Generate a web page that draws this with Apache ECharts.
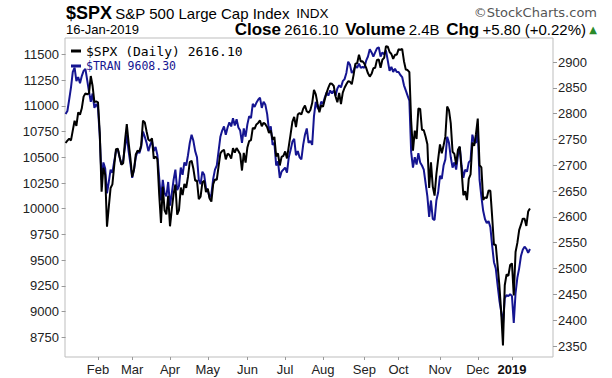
<!DOCTYPE html>
<html>
<head>
<meta charset="utf-8">
<script src="https://cdn.jsdelivr.net/npm/echarts@6/dist/echarts.min.js"></script>
<style>
  html, body { margin: 0; padding: 0; background: #fff; }
  #chart { width: 612px; height: 378px; }
</style>
</head>
<body>
<div id="chart"></div>
<script>
// trading days shown, month by month
const monthKeys = ['2018-01', '2018-02', '2018-03', '2018-04', '2018-05', '2018-06', '2018-07',
  '2018-08', '2018-09', '2018-10', '2018-11', '2018-12', '2019-01'];
const monthDays = [
  [5, 8, 9, 10, 11, 12, 16, 17, 18, 19, 22, 23, 24, 25, 26, 29, 30, 31],
  [1, 2, 5, 6, 7, 8, 9, 12, 13, 14, 15, 16, 20, 21, 22, 23, 26, 27, 28],
  [1, 2, 5, 6, 7, 8, 9, 12, 13, 14, 15, 16, 19, 20, 21, 22, 23, 26, 27, 28, 29],
  [2, 3, 4, 5, 6, 9, 10, 11, 12, 13, 16, 17, 18, 19, 20, 23, 24, 25, 26, 27, 30],
  [1, 2, 3, 4, 7, 8, 9, 10, 11, 14, 15, 16, 17, 18, 21, 22, 23, 24, 25, 29, 30, 31],
  [1, 4, 5, 6, 7, 8, 11, 12, 13, 14, 15, 18, 19, 20, 21, 22, 25, 26, 27, 28, 29],
  [2, 3, 5, 6, 9, 10, 11, 12, 13, 16, 17, 18, 19, 20, 23, 24, 25, 26, 27, 30, 31],
  [1, 2, 3, 6, 7, 8, 9, 10, 13, 14, 15, 16, 17, 20, 21, 22, 23, 24, 27, 28, 29, 30, 31],
  [4, 5, 6, 7, 10, 11, 12, 13, 14, 17, 18, 19, 20, 21, 24, 25, 26, 27, 28],
  [1, 2, 3, 4, 5, 8, 9, 10, 11, 12, 15, 16, 17, 18, 19, 22, 23, 24, 25, 26, 29, 30, 31],
  [1, 2, 5, 6, 7, 8, 9, 12, 13, 14, 15, 16, 19, 20, 21, 23, 26, 27, 28, 29, 30],
  [3, 4, 6, 7, 10, 11, 12, 13, 14, 17, 18, 19, 20, 21, 24, 26, 27, 28, 31],
  [2, 3, 4, 7, 8, 9, 10, 11, 14, 15, 16]
];
const monthLabels = ['Feb', 'Mar', 'Apr', 'May', 'Jun', 'Jul', 'Aug', 'Sep', 'Oct', 'Nov', 'Dec', '2019'];

// $SPX daily close
const spx = [
  2743.15, 2747.71, 2751.29, 2748.23, 2767.56, 2786.24, 2776.42, 2802.56, 2798.03, 2810.30, 2832.97, 2839.13, 2837.54, 2839.25, 2872.87, 2853.53, 2822.43, 2823.81,
  2821.98, 2762.13, 2648.94, 2695.14, 2681.66, 2581.00, 2619.55, 2656.00, 2662.94, 2698.63, 2731.20, 2732.22, 2716.26, 2701.33, 2703.96, 2747.30, 2779.60, 2744.28, 2713.83,
  2677.67, 2691.25, 2720.94, 2728.12, 2726.80, 2738.97, 2786.57, 2783.02, 2765.31, 2749.48, 2747.33, 2752.01, 2712.92, 2716.94, 2711.93, 2643.69, 2588.26, 2658.55, 2612.62, 2605.00, 2640.87,
  2581.88, 2614.45, 2644.69, 2662.84, 2604.47, 2613.16, 2656.87, 2642.19, 2663.99, 2656.30, 2677.84, 2706.39, 2708.64, 2693.13, 2670.14, 2670.29, 2634.56, 2639.40, 2666.94, 2669.91, 2648.05,
  2654.80, 2635.67, 2629.73, 2663.42, 2672.63, 2671.92, 2697.79, 2723.07, 2727.72, 2730.13, 2711.45, 2722.46, 2720.13, 2712.97, 2733.01, 2724.44, 2733.29, 2727.76, 2721.33, 2689.86, 2724.01, 2705.27,
  2734.62, 2746.87, 2748.80, 2772.35, 2770.37, 2779.03, 2782.00, 2786.85, 2775.63, 2782.49, 2779.66, 2773.75, 2762.59, 2767.32, 2749.76, 2754.88, 2717.07, 2723.06, 2699.63, 2716.31, 2718.37,
  2726.71, 2713.22, 2736.61, 2759.82, 2784.17, 2793.84, 2774.02, 2798.29, 2801.31, 2798.43, 2809.55, 2815.62, 2804.49, 2801.83, 2806.98, 2820.40, 2846.07, 2837.44, 2818.82, 2802.60, 2816.29,
  2813.36, 2827.22, 2840.35, 2850.40, 2858.45, 2857.70, 2853.58, 2833.28, 2821.93, 2839.96, 2818.37, 2840.69, 2850.13, 2857.05, 2862.96, 2861.82, 2856.98, 2874.69, 2896.74, 2897.52, 2914.04, 2901.13, 2901.52,
  2896.72, 2888.60, 2878.05, 2871.68, 2877.13, 2887.89, 2888.92, 2904.18, 2904.98, 2888.80, 2904.31, 2907.95, 2930.75, 2929.67, 2919.37, 2915.56, 2905.97, 2914.00, 2913.98,
  2924.59, 2923.43, 2925.51, 2901.61, 2885.57, 2884.43, 2880.34, 2785.68, 2728.37, 2767.13, 2750.79, 2809.92, 2809.21, 2768.78, 2767.78, 2755.88, 2740.69, 2656.10, 2705.57, 2658.69, 2641.25, 2682.63, 2711.74,
  2740.37, 2723.06, 2738.31, 2755.45, 2813.89, 2806.83, 2781.01, 2726.22, 2722.18, 2701.58, 2730.20, 2736.27, 2690.73, 2641.89, 2649.93, 2632.56, 2673.45, 2682.17, 2743.79, 2737.80, 2760.17,
  2790.37, 2700.06, 2695.95, 2633.08, 2637.72, 2636.78, 2651.07, 2650.54, 2599.95, 2545.94, 2546.16, 2506.96, 2467.42, 2416.62, 2351.10, 2467.70, 2488.83, 2485.74, 2506.85,
  2510.03, 2447.89, 2531.94, 2549.69, 2574.41, 2584.96, 2596.64, 2596.26, 2582.61, 2610.30, 2616.10
];

// $TRAN daily close (overlay, left scale)
const tran = [
  10920, 10950, 11060, 11180, 11330, 11373, 11240, 11280, 11220, 11290, 11340, 11360, 11250, 11140, 11040, 11120, 10980, 11020,
  10980, 10700, 10280, 10450, 10390, 10150, 10260, 10380, 10350, 10460, 10560, 10580, 10500, 10430, 10470, 10600, 10720, 10560, 10440,
  10300, 10380, 10500, 10560, 10540, 10600, 10750, 10700, 10640, 10560, 10620, 10660, 10560, 10600, 10520, 10300, 10080, 10280, 10150, 10120, 10260,
  10030, 10150, 10280, 10380, 10180, 10220, 10400, 10330, 10450, 10420, 10520, 10640, 10720, 10660, 10560, 10500, 10280, 10240, 10360, 10330, 10200,
  10180, 10110, 10140, 10290, 10380, 10420, 10560, 10700, 10760, 10800, 10720, 10790, 10840, 10800, 10880, 10810, 10870, 10790, 10760, 10640, 10780, 10700,
  10820, 10900, 10880, 11020, 10990, 11030, 11060, 11080, 10980, 11040, 11010, 10920, 10760, 10800, 10620, 10640, 10420, 10460, 10300, 10360, 10380,
  10400, 10350, 10500, 10570, 10650, 10680, 10520, 10560, 10500, 10480, 10620, 10720, 10780, 10640, 10660, 10620, 10900, 11040, 10980, 10960, 11040,
  11020, 11080, 11130, 11100, 11150, 11120, 11150, 11100, 11170, 11200, 11180, 11240, 11260, 11320, 11430, 11400, 11320, 11340, 11390, 11370, 11410, 11370, 11380,
  11370, 11440, 11480, 11550, 11520, 11480, 11520, 11560, 11570, 11480, 11520, 11500, 11540, 11440, 11340, 11380, 11330, 11360, 11330,
  11330, 11300, 11280, 11200, 11150, 11100, 11050, 10550, 10400, 10500, 10430, 10540, 10450, 10420, 10380, 10250, 10120, 9920, 10080, 9900, 9890, 10080, 10160,
  10320, 10290, 10420, 10480, 10700, 10640, 10500, 10400, 10450, 10380, 10520, 10600, 10420, 10300, 10380, 10360, 10450, 10470, 10720, 10650, 10640,
  10760, 10280, 10120, 9980, 9900, 9860, 9880, 9820, 9640, 9480, 9420, 9260, 9110, 9000, 8880, 9130, 9160, 9150, 9170,
  9150, 8890, 9180, 9330, 9420, 9540, 9600, 9630, 9610, 9570, 9608.30
];

const leftTicks = [8750, 9000, 9250, 9500, 9750, 10000, 10250, 10500, 10750, 11000, 11250, 11500];
const rightTicks = [2350, 2400, 2450, 2500, 2550, 2600, 2650, 2700, 2750, 2800, 2850, 2900];

const dates = [];
const monthStart = [];
monthKeys.forEach((m, k) => {
  if (k > 0) monthStart.push(dates.length);
  monthDays[k].forEach(d => dates.push(m + '-' + String(d).padStart(2, '0')));
});
const labelAt = {};
monthStart.forEach((idx, k) => { labelAt[idx] = monthLabels[k]; });

const spxName = '$SPX (Daily) ' + spx[spx.length - 1].toFixed(2);
const tranName = '$TRAN ' + tran[tran.length - 1].toFixed(2);

const chart = echarts.init(document.getElementById('chart'), null, { renderer: 'svg' });

const axisText = { color: '#222', fontSize: 13, fontFamily: 'Liberation Sans, Arial, sans-serif' };

chart.setOption({
  animation: false,
  backgroundColor: '#fff',
  grid: {
    left: 65, right: 59, top: 38, bottom: 21,
    show: true, borderColor: '#bdbdbd', borderWidth: 1
  },
  legend: {
    orient: 'vertical',
    left: 66, top: 39,
    itemWidth: 10, itemHeight: 3, itemGap: 1,
    icon: 'rect',
    selectedMode: false,
    data: [
      { name: spxName, textStyle: { color: '#000', fontSize: 13, lineHeight: 14, fontFamily: 'DejaVu Sans Mono, monospace' } },
      { name: tranName, textStyle: { color: '#151591', fontSize: 11.5, lineHeight: 14, fontFamily: 'DejaVu Sans Mono, monospace' } }
    ]
  },
  xAxis: {
    type: 'value',
    min: -0.33, max: 270.8,
    axisLine: { show: false },
    splitLine: { show: false },
    axisTick: { show: true, length: 3, lineStyle: { color: '#999' }, customValues: monthStart },
    axisLabel: {
      ...axisText, margin: 6,
      customValues: monthStart,
      formatter: v => labelAt[v] === '2019' ? '{y|2019}' : (labelAt[v] || ''),
      rich: { y: { fontWeight: 'bold', fontSize: 13, color: '#111', fontFamily: 'Liberation Sans, Arial, sans-serif' } }
    }
  },
  yAxis: [
    {
      type: 'value', position: 'left',
      min: 8558, max: 11660,
      axisLine: { show: false },
      splitLine: { show: false },
      axisTick: { show: true, length: 4, lineStyle: { color: '#999' }, customValues: leftTicks },
      axisLabel: { ...axisText, margin: 6, customValues: leftTicks, formatter: v => String(v) }
    },
    {
      type: 'value', position: 'right',
      min: 2328.7, max: 2946.5,
      axisLine: { show: false },
      splitLine: { show: false },
      axisTick: { show: true, length: 4, lineStyle: { color: '#999' }, customValues: rightTicks },
      axisLabel: { ...axisText, margin: 5, customValues: rightTicks, formatter: v => String(v) }
    }
  ],
  series: [
    {
      name: tranName, type: 'line', yAxisIndex: 0,
      data: tran.map((v, i) => [i, v]),
      showSymbol: false,
      lineStyle: { color: '#151591', width: 2 },
      itemStyle: { color: '#151591' }
    },
    {
      name: spxName, type: 'line', yAxisIndex: 1,
      data: spx.map((v, i) => [i, v]),
      showSymbol: false,
      lineStyle: { color: '#000', width: 2 },
      itemStyle: { color: '#000' }
    }
  ],
  graphic: [
    {
      type: 'text', left: 66, top: 4,
      style: {
        text: '{t|$SPX} {n|S&P 500 Large Cap Index}  {s|INDX}',
        rich: {
          t: { fontSize: 18, fontWeight: 'bold', fontFamily: 'Liberation Sans, Arial', fill: '#000' },
          n: { fontSize: 15, fontFamily: 'Liberation Sans, Arial', fill: '#000' },
          s: { fontSize: 13.5, fontFamily: 'Liberation Sans, Arial', fill: '#000' }
        }
      }
    },
    {
      type: 'text', right: 15, top: 6,
      style: { text: '\u00a9StockCharts.com', fontSize: 13, fontFamily: 'DejaVu Sans, Verdana', fill: '#555' }
    },
    {
      type: 'text', left: 66, top: 23,
      style: { text: '16-Jan-2019', fontSize: 13, fontFamily: 'Liberation Sans, Arial', fill: '#000' }
    },
    {
      type: 'text', right: 15, top: 21,
      style: {
        text: '{b|Close} {v|2616.10}  {b|Volume} {v|2.4B}  {b|Chg} {v|+5.80 (+0.22%)} {u|\u25b2}',
        rich: {
          b: { fontSize: 17, fontWeight: 'bold', fontFamily: 'Liberation Sans, Arial', fill: '#000' },
          v: { fontSize: 15, fontFamily: 'Liberation Sans, Arial', fill: '#000' },
          u: { fontSize: 10, fontFamily: 'DejaVu Sans', fill: '#2a8a2a' }
        }
      }
    }
  ]
});
</script>
</body>
</html>
